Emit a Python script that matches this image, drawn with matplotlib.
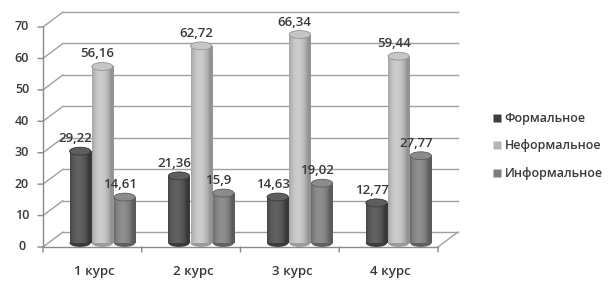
import numpy as np
import matplotlib
matplotlib.use("Agg")
import matplotlib.pyplot as plt
from matplotlib.patches import Ellipse, Rectangle
from matplotlib.transforms import ScaledTranslation
from matplotlib.lines import Line2D

plt.rcParams['font.family'] = ['Open Sans', 'DejaVu Sans']
plt.rcParams['font.weight'] = 'semibold'

categories = ['1 курс', '2 курс', '3 курс', '4 курс']
series_names = ['Формальное', 'Неформальное', 'Информальное']
formal = [29.22, 21.36, 14.63, 12.77]
nonformal = [56.16, 62.72, 66.34, 59.44]
informal = [14.61, 15.9, 19.02, 27.77]
value_labels = [['29,22', '21,36', '14,63', '12,77'],
                ['56,16', '62,72', '66,34', '59,44'],
                ['14,61', '15,9', '19,02', '27,77']]
yticks = [0, 10, 20, 30, 40, 50, 60, 70]

series = [formal, nonformal, informal]
center_gray = [0.38, 0.80, 0.56]
edge_gray = [0.22, 0.58, 0.36]
legend_colors = ['#3c3c3c', '#b4b4b4', '#7c7c7c']
text_c = '#3a3a3a'

W, H, DPI = 613, 285, 100
fig = plt.figure(figsize=(W / DPI, H / DPI), dpi=DPI)
fig.patch.set_facecolor('white')
ax = fig.add_axes([43 / W, 38 / H, (438 - 43) / W, 220 / H])
ax.set_xlim(0, 4)
ax.set_ylim(0, 70)
for s in ax.spines.values():
    s.set_visible(False)
ax.set_xticks([])
ax.set_yticks([])

def px_offset(dx, dy):
    return ScaledTranslation(dx / DPI, dy / DPI, fig.dpi_scale_trans)

back = ax.transData + px_offset(20, 15)
grid_c = '#a0a0a0'
for y in yticks:
    ax.plot([0, 4], [y, y], color=grid_c, lw=1.0, transform=back, clip_on=False, zorder=1)
    ax.annotate('', xy=(0, y), xycoords='data', xytext=(20, 15), textcoords='offset pixels',
                arrowprops=dict(arrowstyle='-', color=grid_c, lw=1.0, shrinkA=0, shrinkB=0),
                annotation_clip=False, zorder=1)
ax.annotate('', xy=(4, 0), xycoords='data', xytext=(20, 15), textcoords='offset pixels',
            arrowprops=dict(arrowstyle='-', color=grid_c, lw=1.0, shrinkA=0, shrinkB=0),
            annotation_clip=False, zorder=1)
ax.plot([0, 4], [0, 0], color='#8a8a8a', lw=1.0, clip_on=False, zorder=2)
ax.plot([0, 0], [0, 70], color='#8a8a8a', lw=1.0, clip_on=False, zorder=2)
for y in yticks:
    ax.annotate('', xy=(0, y), xycoords='data', xytext=(-5, 0), textcoords='offset pixels',
                arrowprops=dict(arrowstyle='-', color='#8a8a8a', lw=1.0, shrinkA=0, shrinkB=0),
                annotation_clip=False)
    ax.annotate(str(y), xy=(0, y), xycoords='data', xytext=(-21, 0), textcoords='offset pixels',
                ha='center', va='center', fontsize=9, color=text_c, annotation_clip=False)
for xb in range(5):
    ax.annotate('', xy=(xb, 0), xycoords='data', xytext=(0, -5), textcoords='offset pixels',
                arrowprops=dict(arrowstyle='-', color='#8a8a8a', lw=1.0, shrinkA=0, shrinkB=0),
                annotation_clip=False)
for j, c in enumerate(categories):
    ax.annotate(c, xy=(j + 0.5, 0), xycoords='data', xytext=(2, -24), textcoords='offset pixels',
                ha='center', va='center', fontsize=9.5, color=text_c, annotation_clip=False)

bar_w = 0.215
bar_tr = ax.transData + px_offset(10, 4)
t = np.linspace(0, 1, 64)
p = np.clip(np.cos((t - 0.4) * np.pi * 1.1), 0, 1) ** 0.7
ell_h = 2.5
for i, vals in enumerate(series):
    cg, eg = center_gray[i], edge_gray[i]
    shade = eg + (cg - eg) * p
    img = np.repeat(shade[None, :, None], 3, axis=2)
    for j, v in enumerate(vals):
        xc = j + 0.5 + (i - 1) * (bar_w + 0.01)
        x0, x1 = xc - bar_w / 2, xc + bar_w / 2
        bot = Ellipse((xc, 0), bar_w, ell_h, transform=bar_tr, facecolor=(eg * 1.05,) * 3,
                      edgecolor='none', zorder=3)
        ax.add_patch(bot)
        im = ax.imshow(img, extent=[x0, x1, 0, v], aspect='auto', transform=bar_tr,
                       zorder=3.1, interpolation='bilinear')
        clip = Rectangle((x0, 0), bar_w, v, transform=bar_tr)
        im.set_clip_path(clip)
        top_c = cg * 0.97
        top = Ellipse((xc, v), bar_w, ell_h, transform=bar_tr, facecolor=(top_c,) * 3,
                      edgecolor=(eg,) * 3, lw=0.6, zorder=3.2)
        ax.add_patch(top)
        ax.annotate(value_labels[i][j], xy=(xc, v), xycoords=bar_tr, xytext=(-5, 6),
                    textcoords='offset pixels', ha='center', va='bottom', fontsize=9.5,
                    color=text_c, annotation_clip=False, zorder=4)
ax.set_xlim(0, 4)
ax.set_ylim(0, 70)

handles = [Line2D([], [], marker='s', linestyle='none', markersize=5.5,
                  markerfacecolor=legend_colors[k], markeredgecolor='none') for k in range(3)]
fig.legend(handles, series_names, loc='center left', bbox_to_anchor=(479 / W, 1 - 146 / H),
           frameon=False, fontsize=9, handletextpad=0.15, labelspacing=1.15,
           handlelength=1.0, labelcolor=text_c)

fig.savefig('out.png', dpi=DPI, facecolor='white')
